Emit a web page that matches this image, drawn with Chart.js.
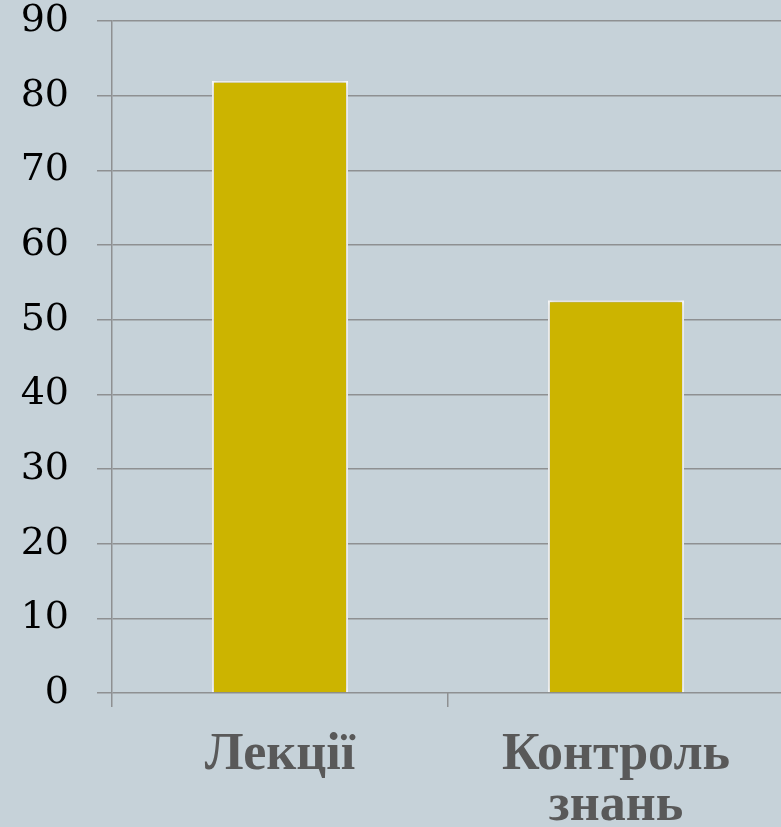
<!DOCTYPE html>
<html>
<head>
<meta charset="utf-8">
<script src="https://cdn.jsdelivr.net/npm/chart.js@4/dist/chart.umd.min.js"></script>
<style>
html,body{margin:0;padding:0;overflow:hidden;background:#c6d2d9;}
#wrap{width:784px;height:827px;position:relative;}
</style>
</head>
<body>
<div id="wrap"><canvas id="c"></canvas></div>
<script>
const categories = [["Лекції"], ["Контроль", "знань"]];
const values = [82, 52.6];
const yMin = 0, yMax = 90, yStep = 10;

const gridColor = '#8e9092';
const shadowPlugin = {
  id: 'barShadow',
  beforeDatasetsDraw(chart) {
    const ctx = chart.ctx;
    ctx.save();
    ctx.shadowColor = 'rgba(0,0,0,0.25)';
    ctx.shadowBlur = 6;
    ctx.shadowOffsetX = 0;
    ctx.shadowOffsetY = 0;
  },
  afterDatasetsDraw(chart) { chart.ctx.restore(); }
};

new Chart(document.getElementById('c'), {
  type: 'bar',
  data: {
    labels: categories,
    datasets: [{
      data: values,
      backgroundColor: '#ccb400',
      borderColor: '#ffffff',
      borderWidth: 2,
      borderSkipped: 'bottom',
      barPercentage: 0.405,
      categoryPercentage: 1.0
    }]
  },
  options: {
    responsive: true,
    maintainAspectRatio: false,
    animation: false,
    layout: { padding: { top: 21, right: 0, bottom: 0, left: 0 } },
    plugins: { legend: { display: false }, tooltip: { enabled: false } },
    scales: {
      x: {
        afterFit(s) { s.height = 134; s.paddingLeft = 0; s.paddingRight = 0; },
        grid: { drawOnChartArea: false, drawTicks: true, tickLength: 14, offset: true, color: gridColor, lineWidth: 1.5 },
        border: { display: false },
        ticks: {
          padding: 23,
          color: '#595959',
          font: { family: 'Liberation Serif', size: 52, weight: 'bold', lineHeight: 0.98 },
          maxRotation: 0
        }
      },
      y: {
        min: yMin, max: yMax,
        afterFit(s) { s.width = 112; s.paddingTop = 0; s.paddingBottom = 0; },
        grid: { color: gridColor, lineWidth: 1.5, tickLength: 15, drawTicks: true },
        border: { display: true, color: gridColor, width: 1.5 },
        ticks: {
          stepSize: yStep,
          padding: 28,
          color: '#000000',
          font: { family: 'DejaVu Serif', size: 38 }
        }
      }
    }
  },
  plugins: [shadowPlugin]
});
</script>
</body>
</html>
